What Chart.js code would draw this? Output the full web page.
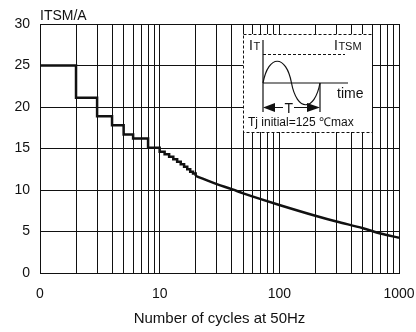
<!DOCTYPE html>
<html>
<head>
<meta charset="utf-8">
<script src="https://cdn.jsdelivr.net/npm/chart.js@4.4.1/dist/chart.umd.min.js"></script>
<style>
html, body { margin: 0; padding: 0; background: #fff; }
</style>
</head>
<body>
<canvas id="surgeChart" width="416" height="332"></canvas>
<script>
// surge current vs number of cycles
const stepCycles = [1, 2, 3, 4, 5, 6, 8, 10, 11, 12, 13, 14, 15, 16, 17, 18, 19, 20];
const stepValues = [25, 21.1, 18.9, 17.8, 16.7, 16.2, 15.1, 14.6, 14.3, 14.0, 13.7, 13.4, 13.1, 12.8, 12.5, 12.2, 12.0, 11.7];
const curveCycles = [20, 30, 40, 50, 70, 100, 200, 300, 500, 700, 1000];
const curveValues = [11.7, 10.7, 10.1, 9.6, 8.9, 8.2, 6.9, 6.2, 5.4, 4.75, 4.25];
const xTickValues = [1, 10, 100, 1000];
const xTickLabels = ["0", "10", "100", "1000"];
const yTitle = "ITSM/A";
const xTitle = "Number of cycles at 50Hz";

const FONT = "'Liberation Sans', Arial, sans-serif";
const INK = "#111";

function toPoints(xs, ys) {
    return xs.map((x, i) => ({ x: x, y: ys[i] }));
}

// one grid line per 1..9 of each decade
const gridValues = [];
for (let d = 1; d < 1000; d *= 10) {
    for (let m = 1; m < 10; m++) gridValues.push(m * d);
}
gridValues.push(1000);

function textSub(c, big, small, x, y) {
    c.font = "14px " + FONT;
    c.fillText(big, x, y);
    const w = c.measureText(big).width;
    c.font = "11px " + FONT;
    c.fillText(small, x + w + 0.5, y);
}

const insetPlugin = {
    id: "inset",
    afterDraw(chart) {
        const c = chart.ctx;
        const area = chart.chartArea;
        c.save();
        c.fillStyle = INK;
        c.strokeStyle = INK;
        c.textBaseline = "alphabetic";
        c.textAlign = "left";

        // y axis caption above the plot
        c.font = "14px " + FONT;
        c.fillText(yTitle, area.left, area.top - 4);

        // waveform inset
        const bx = 243, by = 34, bw = 129, bh = 98;
        c.fillStyle = "#fff";
        c.fillRect(bx, by, bw, bh);
        c.lineWidth = 1;
        c.setLineDash([3, 2]);
        c.strokeRect(bx + 0.5, by + 0.5, bw, bh);

        // dashed ITSM level
        c.beginPath();
        c.moveTo(263, 54.5);
        c.lineTo(345, 54.5);
        c.stroke();
        c.setLineDash([]);

        c.lineWidth = 1.2;
        c.beginPath();
        c.moveTo(263, 40);
        c.lineTo(263, 112);
        c.moveTo(263, 83);
        c.lineTo(348, 83);
        c.moveTo(320, 83);
        c.lineTo(320, 112);
        c.stroke();

        // one sine period
        c.beginPath();
        c.moveTo(263, 83);
        c.bezierCurveTo(268.5, 54, 286, 54, 291.5, 83);
        c.bezierCurveTo(297, 112, 314.5, 112, 320, 83);
        c.stroke();

        // period arrows
        c.fillStyle = INK;
        c.beginPath();
        c.moveTo(275, 107.5);
        c.lineTo(283, 107.5);
        c.moveTo(294, 107.5);
        c.lineTo(308, 107.5);
        c.stroke();
        c.beginPath();
        c.moveTo(263, 107.5);
        c.lineTo(275, 103);
        c.lineTo(275, 112);
        c.closePath();
        c.fill();
        c.beginPath();
        c.moveTo(320, 107.5);
        c.lineTo(307, 103);
        c.lineTo(307, 112);
        c.closePath();
        c.fill();

        c.font = "14px " + FONT;
        c.textAlign = "center";
        c.fillText("T", 288.8, 112.5);
        c.textAlign = "left";
        c.fillText("time", 337, 98);

        textSub(c, "I", "T", 249, 50);
        textSub(c, "I", "TSM", 334, 50);

        c.font = "12px " + FONT;
        c.fillText("Tj initial=125 \u2103max", 248, 126);
        c.restore();
    }
};

const lineStyle = {
    borderColor: INK,
    borderWidth: 2.5,
    pointRadius: 0,
    fill: false
};

new Chart(document.getElementById("surgeChart"), {
    type: "line",
    data: {
        datasets: [
            Object.assign({ data: toPoints(stepCycles, stepValues), stepped: "before" }, lineStyle),
            Object.assign({ data: toPoints(curveCycles, curveValues), cubicInterpolationMode: "monotone" }, lineStyle)
        ]
    },
    options: {
        responsive: false,
        animation: false,
        events: [],
        layout: { padding: { top: 24, right: 17, left: 0, bottom: 0 } },
        plugins: { legend: { display: false }, tooltip: { enabled: false } },
        scales: {
            x: {
                type: "logarithmic",
                min: 1,
                max: 1000,
                afterBuildTicks: function(scale) {
                    scale.ticks = gridValues.map(v => ({ value: v }));
                },
                afterFit: function(scale) { scale.height = 59; },
                grid: { color: INK, lineWidth: 1, tickLength: 13, tickColor: "rgba(0,0,0,0)" },
                border: { color: INK, width: 1 },
                ticks: {
                    autoSkip: false,
                    maxRotation: 0,
                    padding: 0,
                    color: INK,
                    font: { family: FONT, size: 14 },
                    callback: function(value) {
                        const i = xTickValues.indexOf(value);
                        return i >= 0 ? xTickLabels[i] : "";
                    }
                },
                title: {
                    display: true,
                    text: xTitle,
                    color: INK,
                    font: { family: FONT, size: 15 },
                    padding: { top: 0, bottom: 4 }
                }
            },
            y: {
                min: 0,
                max: 30,
                afterFit: function(scale) { scale.width = 40; },
                grid: { color: INK, lineWidth: 1, tickLength: 10, tickColor: "rgba(0,0,0,0)" },
                border: { color: INK, width: 1 },
                ticks: {
                    stepSize: 5,
                    padding: 0,
                    color: INK,
                    font: { family: FONT, size: 14 }
                }
            }
        }
    },
    plugins: [insetPlugin]
});
</script>
</body>
</html>
